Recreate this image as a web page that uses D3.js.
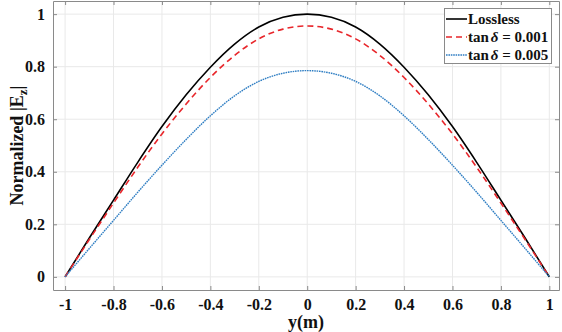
<!DOCTYPE html>
<html>
<head>
<meta charset="utf-8">
<script src="https://cdn.jsdelivr.net/npm/d3@7"></script>
<style>
  body { margin: 0; background: #fff; }
  text { font-family: "Liberation Serif", "Times New Roman", serif; font-weight: bold; }
</style>
</head>
<body>
<svg id="chart" width="562" height="332"></svg>
<script>
// values
var yPos = [-1, -0.9, -0.8, -0.7, -0.6, -0.5, -0.4, -0.3, -0.2, -0.1, 0,
            0.1, 0.2, 0.3, 0.4, 0.5, 0.6, 0.7, 0.8, 0.9, 1];
var lossless = [0, 0.148, 0.292, 0.436, 0.572, 0.693, 0.798, 0.886, 0.951, 0.988, 1.0,
                0.988, 0.951, 0.886, 0.798, 0.693, 0.572, 0.436, 0.292, 0.148, 0];
var tan001 = [0, 0.142, 0.281, 0.417, 0.544, 0.658, 0.759, 0.843, 0.906, 0.943, 0.955,
              0.943, 0.906, 0.843, 0.759, 0.658, 0.544, 0.417, 0.281, 0.142, 0];
var tan005 = [0, 0.108, 0.215, 0.322, 0.425, 0.523, 0.613, 0.689, 0.744, 0.775, 0.785,
              0.775, 0.744, 0.689, 0.613, 0.523, 0.425, 0.322, 0.215, 0.108, 0];
var xTicks = [-1, -0.8, -0.6, -0.4, -0.2, 0, 0.2, 0.4, 0.6, 0.8, 1];
var yTicks = [0, 0.2, 0.4, 0.6, 0.8, 1];

var series = [
  {name: "Lossless", values: lossless, color: "#000000", dash: null, width: 1.6},
  {name: "0.001", values: tan001, color: "#e8262b", dash: "6,4", width: 1.6},
  {name: "0.005", values: tan005, color: "#2f7ec3", dash: "1.6,0.8", width: 1.4}
];

var mLeft = 53, mRight = 559, mTop = 1, mBottom = 290;
var svg = d3.select("#chart");

var x = d3.scaleLinear().domain([-1.05, 1.04]).range([mLeft, mRight]);
var y = d3.scaleLinear().domain([-0.05, 1.05]).range([mBottom, mTop]);
var fmt = d => String(d);

// grid
svg.append("g").selectAll("line").data(xTicks).join("line")
  .attr("x1", d => x(d)).attr("x2", d => x(d))
  .attr("y1", mTop).attr("y2", mBottom)
  .attr("stroke", "#e9e9e9").attr("stroke-width", 1);
svg.append("g").selectAll("line").data(yTicks).join("line")
  .attr("x1", mLeft).attr("x2", mRight)
  .attr("y1", d => y(d)).attr("y2", d => y(d))
  .attr("stroke", "#e9e9e9").attr("stroke-width", 1);

// curves
var line = d3.line()
  .x((d, i) => x(yPos[i]))
  .y(d => y(d))
  .curve(d3.curveMonotoneX);

series.forEach(function(s) {
  svg.append("path")
    .attr("d", line(s.values))
    .attr("fill", "none")
    .attr("stroke", s.color)
    .attr("stroke-width", s.width)
    .attr("stroke-dasharray", s.dash);
});

// axes (ticks inward, box all round)
function styleAxis(g) {
  g.attr("font-family", null).attr("font-size", null);
  g.selectAll(".domain").attr("stroke", "#8a8a8a");
  g.selectAll(".tick line").attr("stroke", "#8a8a8a");
  g.selectAll(".tick text").attr("fill", "#111").style("font-size", "16px");
}
svg.append("g").attr("transform", "translate(0," + mBottom + ")")
  .call(d3.axisBottom(x).tickValues(xTicks).tickSize(-4).tickSizeOuter(0).tickPadding(9).tickFormat(fmt))
  .call(styleAxis);
svg.append("g").attr("transform", "translate(" + mLeft + ",0)")
  .call(d3.axisLeft(y).tickValues(yTicks).tickSize(-4).tickSizeOuter(0).tickPadding(8).tickFormat(fmt))
  .call(styleAxis);
svg.append("g").attr("transform", "translate(0," + mTop + ")")
  .call(d3.axisTop(x).tickValues(xTicks).tickSize(-4).tickSizeOuter(0).tickFormat(""))
  .call(styleAxis);
svg.append("g").attr("transform", "translate(" + mRight + ",0)")
  .call(d3.axisRight(y).tickValues(yTicks).tickSize(-4).tickSizeOuter(0).tickFormat(""))
  .call(styleAxis);

// axis labels
svg.append("text")
  .attr("x", (mLeft + mRight) / 2).attr("y", 328)
  .attr("text-anchor", "middle").style("font-size", "18px").attr("fill", "#111")
  .text("y(m)");
var yl = svg.append("text")
  .attr("transform", "translate(23," + (mBottom + mTop) / 2 + ") rotate(-90)")
  .attr("text-anchor", "middle").style("font-size", "18px").attr("fill", "#111");
yl.append("tspan").text("Normalized |E");
yl.append("tspan").attr("dy", 4).style("font-size", "13px").text("z");
yl.append("tspan").attr("dy", -4).text("|");

// legend
var lg = svg.append("g");
lg.append("rect").attr("x", 444.5).attr("y", 8.5).attr("width", 107).attr("height", 55)
  .attr("fill", "#fff").attr("stroke", "#8a8a8a").attr("stroke-width", 1);
series.forEach(function(s, i) {
  var cy = 19 + i * 18;
  lg.append("line").attr("x1", 446).attr("x2", 467).attr("y1", cy).attr("y2", cy)
    .attr("stroke", s.color).attr("stroke-width", s.width).attr("stroke-dasharray", s.dash);
  var t = lg.append("text").attr("x", 468).attr("y", cy + 5).style("font-size", "15px").attr("fill", "#111");
  if (i === 0) {
    t.text(s.name);
  } else {
    t.append("tspan").text("tan");
    t.append("tspan").attr("dx", 2).style("font-style", "italic").text("δ");
    t.append("tspan").text(" = " + s.name);
  }
});
</script>
</body>
</html>
